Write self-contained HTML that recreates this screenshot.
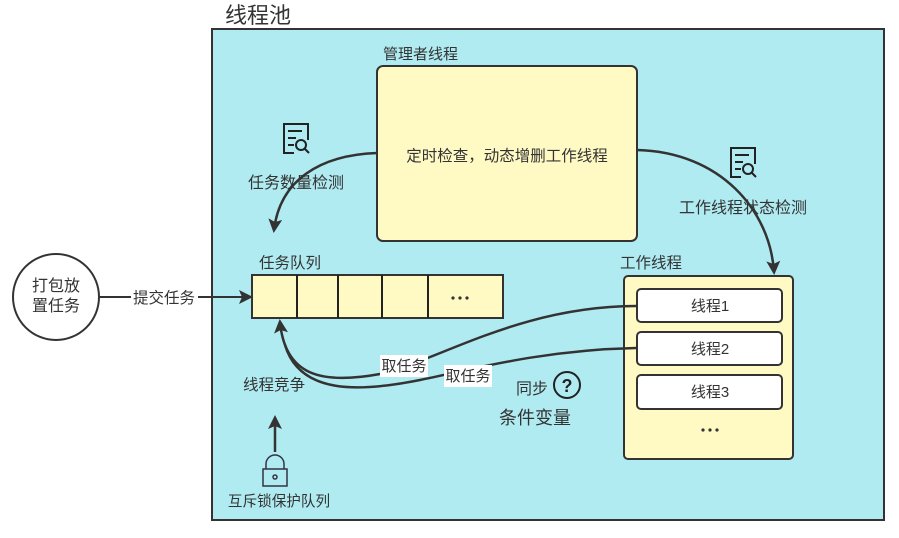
<!DOCTYPE html>
<html><head><meta charset="utf-8"><style>
html,body{margin:0;padding:0;background:#fff;width:899px;height:538px;overflow:hidden}
svg text{font-family:"Liberation Sans","Noto Sans CJK SC",sans-serif;fill:#333}
</style></head><body>
<svg width="899" height="538" xmlns="http://www.w3.org/2000/svg">
<defs>
<marker id="a" markerWidth="14" markerHeight="14" refX="11" refY="7" orient="auto" markerUnits="userSpaceOnUse"><path d="M0,0 L14,7 L0,14 L3,7 Z" fill="#333"/></marker>
</defs>
<text x="225" y="23" font-size="22">线程池</text>
<rect x="212" y="29" width="672" height="491" fill="#b0ebf2" stroke="#333" stroke-width="2"/>
<text x="383" y="59" font-size="15">管理者线程</text>
<rect x="377" y="66" width="260" height="175" rx="6" fill="#fff9c4" stroke="#333" stroke-width="2"/>
<text x="507" y="161" font-size="15.5" text-anchor="middle">定时检查，动态增删工作线程</text>
<text x="259" y="268" font-size="15.5">任务队列</text>
<rect x="252" y="275" width="251" height="43" fill="#fff9c4" stroke="#333" stroke-width="2"/>
<g stroke="#222" stroke-width="2"><line x1="297" y1="275" x2="297" y2="318"/><line x1="338" y1="275" x2="338" y2="318"/><line x1="382" y1="275" x2="382" y2="318"/><line x1="428" y1="275" x2="428" y2="318"/></g>
<g fill="#333"><circle cx="453" cy="298" r="1.6"/><circle cx="460" cy="298" r="1.6"/><circle cx="467" cy="298" r="1.6"/></g>
<text x="620" y="268" font-size="15.5">工作线程</text>
<rect x="624" y="276" width="169" height="183" rx="4" fill="#fff9c4" stroke="#333" stroke-width="2"/>
<rect x="637" y="289" width="145" height="33" rx="4" fill="#fff" stroke="#333" stroke-width="2"/>
<text x="710" y="311" font-size="15" text-anchor="middle">线程1</text>
<rect x="637" y="332" width="145" height="33" rx="4" fill="#fff" stroke="#333" stroke-width="2"/>
<text x="710" y="354" font-size="15" text-anchor="middle">线程2</text>
<rect x="637" y="375" width="145" height="34" rx="4" fill="#fff" stroke="#333" stroke-width="2"/>
<text x="710" y="397" font-size="15" text-anchor="middle">线程3</text>
<g fill="#333"><circle cx="703" cy="430" r="1.6"/><circle cx="710" cy="430" r="1.6"/><circle cx="717" cy="430" r="1.6"/></g>
<circle cx="56" cy="297" r="43" fill="#fff" stroke="#333" stroke-width="2"/>
<text x="56" y="291" font-size="16" text-anchor="middle">打包放</text>
<text x="56" y="311" font-size="16" text-anchor="middle">置任务</text>
<line x1="99" y1="297" x2="250" y2="297" stroke="#333" stroke-width="2" marker-end="url(#a)"/>
<rect x="131" y="288" width="67" height="19" fill="#fff"/>
<text x="164" y="303" font-size="15.5" text-anchor="middle">提交任务</text>
<g fill="none" stroke="#333" stroke-width="2.5">
<path d="M377,153 C320,155 280,180 274,230" marker-end="url(#a)"/>
<path d="M637,150 C720,152 770,210 774,272" marker-end="url(#a)"/>
<path d="M637,306 C520,306 440,360 380,374 C320,385 285,375 280,322" marker-end="url(#a)"/>
<path d="M637,348 C540,350 470,370 420,380 C360,392 300,395 285,345"/>
<path d="M275,452 L275,418" marker-end="url(#a)"/>
</g>
<rect x="380" y="355" width="48" height="22" fill="#fff"/>
<text x="404" y="371" font-size="15" text-anchor="middle">取任务</text>
<rect x="444" y="365" width="48" height="22" fill="#fff"/>
<text x="468" y="381" font-size="15" text-anchor="middle">取任务</text>
<text x="243" y="390" font-size="15.5">线程竞争</text>
<text x="516" y="394" font-size="16">同步</text>
<circle cx="567" cy="385" r="13" fill="none" stroke="#222" stroke-width="2"/>
<text x="567" y="392" font-size="18" text-anchor="middle" font-weight="bold" style="fill:#222">?</text>
<text x="499" y="424" font-size="18">条件变量</text>
<text x="296" y="188" font-size="16" text-anchor="middle">任务数量检测</text>
<text x="743" y="213" font-size="16" text-anchor="middle">工作线程状态检测</text>
<text x="279" y="506" font-size="14.6" text-anchor="middle">互斥锁保护队列</text>
<g fill="none" stroke="#222" stroke-width="2">
<path d="M294,153 L284,153 L284,124 L308,124 L308,140"/>
<line x1="288" y1="131" x2="302" y2="131"/><line x1="288" y1="138" x2="296" y2="138"/><line x1="288" y1="145" x2="294" y2="145"/>
<circle cx="301" cy="145" r="5"/><line x1="305" y1="149" x2="309" y2="153"/>
<path d="M741,177 L731,177 L731,148 L755,148 L755,164"/>
<line x1="735" y1="155" x2="749" y2="155"/><line x1="735" y1="162" x2="743" y2="162"/><line x1="735" y1="169" x2="741" y2="169"/>
<circle cx="748" cy="169" r="5"/><line x1="752" y1="173" x2="756" y2="177"/>
</g>
<g fill="none" stroke="#334" stroke-width="1.5">
<rect x="263" y="469" width="24" height="17"/>
<path d="M266,469 L266,464 A9,9 0 0 1 284,464 L284,469"/>
<circle cx="275" cy="477" r="2"/>
</g>
</svg>
</body></html>
